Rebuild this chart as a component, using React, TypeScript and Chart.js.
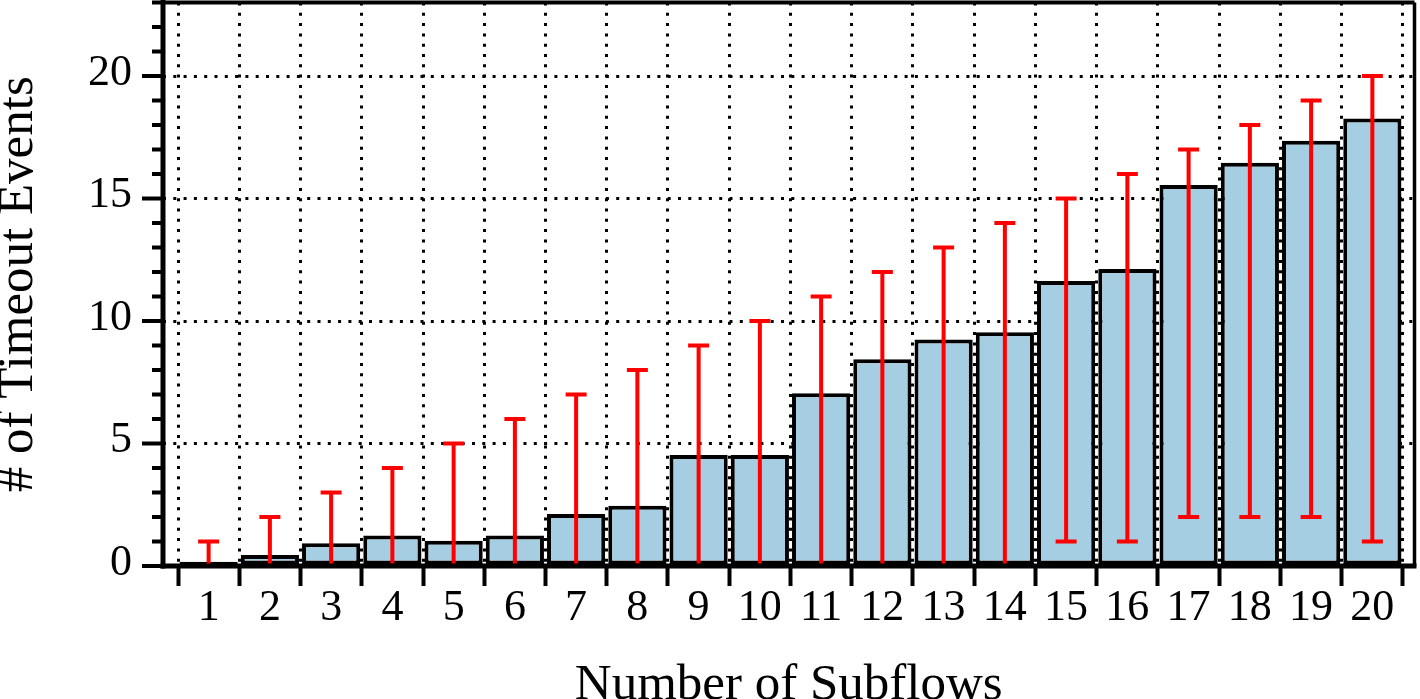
import React, { useEffect, useRef } from "react";
import { Chart, registerables } from "chart.js";

Chart.register(...registerables);

// ---- data ----
const subflows = [1, 2, 3, 4, 5, 6, 7, 8, 9, 10, 11, 12, 13, 14, 15, 16, 17, 18, 19, 20];
const meanTimeouts = [0.17, 0.45, 0.93, 1.25, 1.03, 1.25, 2.12, 2.46, 4.53, 4.53, 7.05, 8.44, 9.25, 9.54, 11.63, 12.12, 15.55, 16.46, 17.36, 18.27];
const errorLow = [0, 0, 0, 0, 0, 0, 0, 0, 0, 0, 0, 0, 0, 0, 1, 1, 2, 2, 2, 1];
const errorHigh = [1, 2, 3, 4, 5, 6, 7, 8, 9, 10, 11, 12, 13, 14, 15, 16, 17, 18, 19, 20];
const yMin = 0;
const yMax = 23;
const yMajorStep = 5;
const xTitle = "Number of Subflows";
const yTitle = "# of Timeout Events";

const FONT = '"Liberation Serif", "Times New Roman", Times, serif';
const W = 1420;
const H = 720;

const errorBarPlugin = {
  id: "errorBars",
  afterDatasetsDraw(chart: any) {
    const meta = chart.getDatasetMeta(0);
    const ys = chart.scales.y;
    const ctx = chart.ctx;
    ctx.save();
    ctx.strokeStyle = "#ff0000";
    ctx.lineWidth = 4;
    meta.data.forEach((bar: any, i: number) => {
      const x = bar.x;
      const yl = ys.getPixelForValue(errorLow[i]);
      const yh = ys.getPixelForValue(errorHigh[i]);
      ctx.beginPath();
      ctx.moveTo(x, yl);
      ctx.lineTo(x, yh);
      ctx.moveTo(x - 10.5, yh);
      ctx.lineTo(x + 10.5, yh);
      ctx.moveTo(x - 10.5, yl);
      ctx.lineTo(x + 10.5, yl);
      ctx.stroke();
    });
    ctx.restore();
  },
};

const framePlugin = {
  id: "frame",
  afterDraw(chart: any) {
    const { ctx, chartArea } = chart;
    const { left, right, top, bottom } = chartArea;
    const ys = chart.scales.y;
    ctx.save();
    ctx.strokeStyle = "#000";
    // y tick marks (major longer, minor shorter)
    ctx.lineWidth = 4;
    ys.ticks.forEach((t: any) => {
      const py = ys.getPixelForValue(t.value);
      const len = t.value % yMajorStep === 0 ? 21 : 11;
      ctx.beginPath();
      ctx.moveTo(left - len, py);
      ctx.lineTo(left, py);
      ctx.stroke();
    });
    // frame
    ctx.lineWidth = 4;
    ctx.beginPath();
    ctx.moveTo(left, top);
    ctx.lineTo(right, top);
    ctx.stroke();
    ctx.lineWidth = 3.5;
    ctx.beginPath();
    ctx.moveTo(right, top);
    ctx.lineTo(right, bottom);
    ctx.stroke();
    ctx.lineWidth = 5;
    ctx.beginPath();
    ctx.moveTo(left, top - 2.5);
    ctx.lineTo(left, bottom + 2.5);
    ctx.stroke();
    ctx.beginPath();
    ctx.moveTo(left - 2.5, bottom);
    ctx.lineTo(right + 2, bottom);
    ctx.stroke();
    ctx.restore();
  },
};

export default function App() {
  const ref = useRef<HTMLCanvasElement>(null);

  useEffect(() => {
    document.body.style.margin = "0";
    document.body.style.overflow = "hidden";
    const canvas = ref.current!;
    const chart = new Chart(canvas, {
      type: "bar",
      data: {
        datasets: [
          {
            data: subflows.map((s, i) => ({ x: s, y: meanTimeouts[i] })),
            backgroundColor: "#a6cee3",
            borderColor: "#000",
            borderWidth: 4,
            borderSkipped: false,
            categoryPercentage: 1,
            barPercentage: 0.95,
          },
        ],
      },
      options: {
        animation: false,
        responsive: false,
        devicePixelRatio: 1,
        layout: { padding: { top: 2.5, right: 5.5, left: 0, bottom: 0 } },
        plugins: {
          legend: { display: false },
          tooltip: { enabled: false },
        },
        scales: {
          x: {
            type: "linear",
            offset: false,
            min: 0.255,
            max: 20.688,
            afterBuildTicks: (s: any) => {
              s.ticks = subflows.map((v) => ({ value: v }));
            },
            afterFit: (s: any) => {
              s.height = H - 566;
              s.paddingLeft = 0;
              s.paddingRight = 0;
            },
            ticks: {
              autoSkip: false,
              maxRotation: 0,
              minRotation: 0,
              padding: 0,
              color: "#000",
              font: { family: FONT, size: 44, lineHeight: 1 },
              callback: (v: any) => String(v),
            },
            grid: {
              offset: true,
              color: "#000",
              lineWidth: 3,
              tickLength: 20,
              tickWidth: 4,
              tickColor: "#000",
            },
            border: { display: false, dash: [3, 7.3] },
            title: {
              display: true,
              text: xTitle,
              color: "#000",
              font: { family: FONT, size: 51, lineHeight: 1 },
              padding: { top: 0, bottom: 8.5 },
            },
          },
          y: {
            min: yMin,
            max: yMax,
            afterFit: (s: any) => {
              s.width = 163;
              s.paddingTop = 0;
              s.paddingBottom = 0;
            },
            ticks: {
              stepSize: 1,
              autoSkip: false,
              padding: 11,
              labelOffset: -3,
              color: "#000",
              font: { family: FONT, size: 44, lineHeight: 1 },
              callback: (v: any) => (v % yMajorStep === 0 ? String(v) : ""),
            },
            grid: {
              color: (c: any) =>
                c.tick && c.tick.value % yMajorStep === 0 && c.tick.value > yMin && c.tick.value < yMax
                  ? "#000"
                  : "rgba(0,0,0,0)",
              lineWidth: 3,
              tickLength: 20,
              tickColor: "rgba(0,0,0,0)",
            },
            border: { display: false, dash: [3, 7.3] },
            title: {
              display: true,
              text: yTitle,
              color: "#000",
              font: { family: FONT, size: 51, lineHeight: 0.7 },
              padding: { top: 1, bottom: 0 },
            },
          },
        },
      },
      plugins: [errorBarPlugin, framePlugin],
    } as any);
    return () => chart.destroy();
  }, []);

  return (
    <div style={{ position: "fixed", left: 0, top: 0, width: W, height: H, background: "#fff" }}>
      <canvas ref={ref} width={W} height={H} style={{ display: "block", width: W, height: H }} />
    </div>
  );
}
